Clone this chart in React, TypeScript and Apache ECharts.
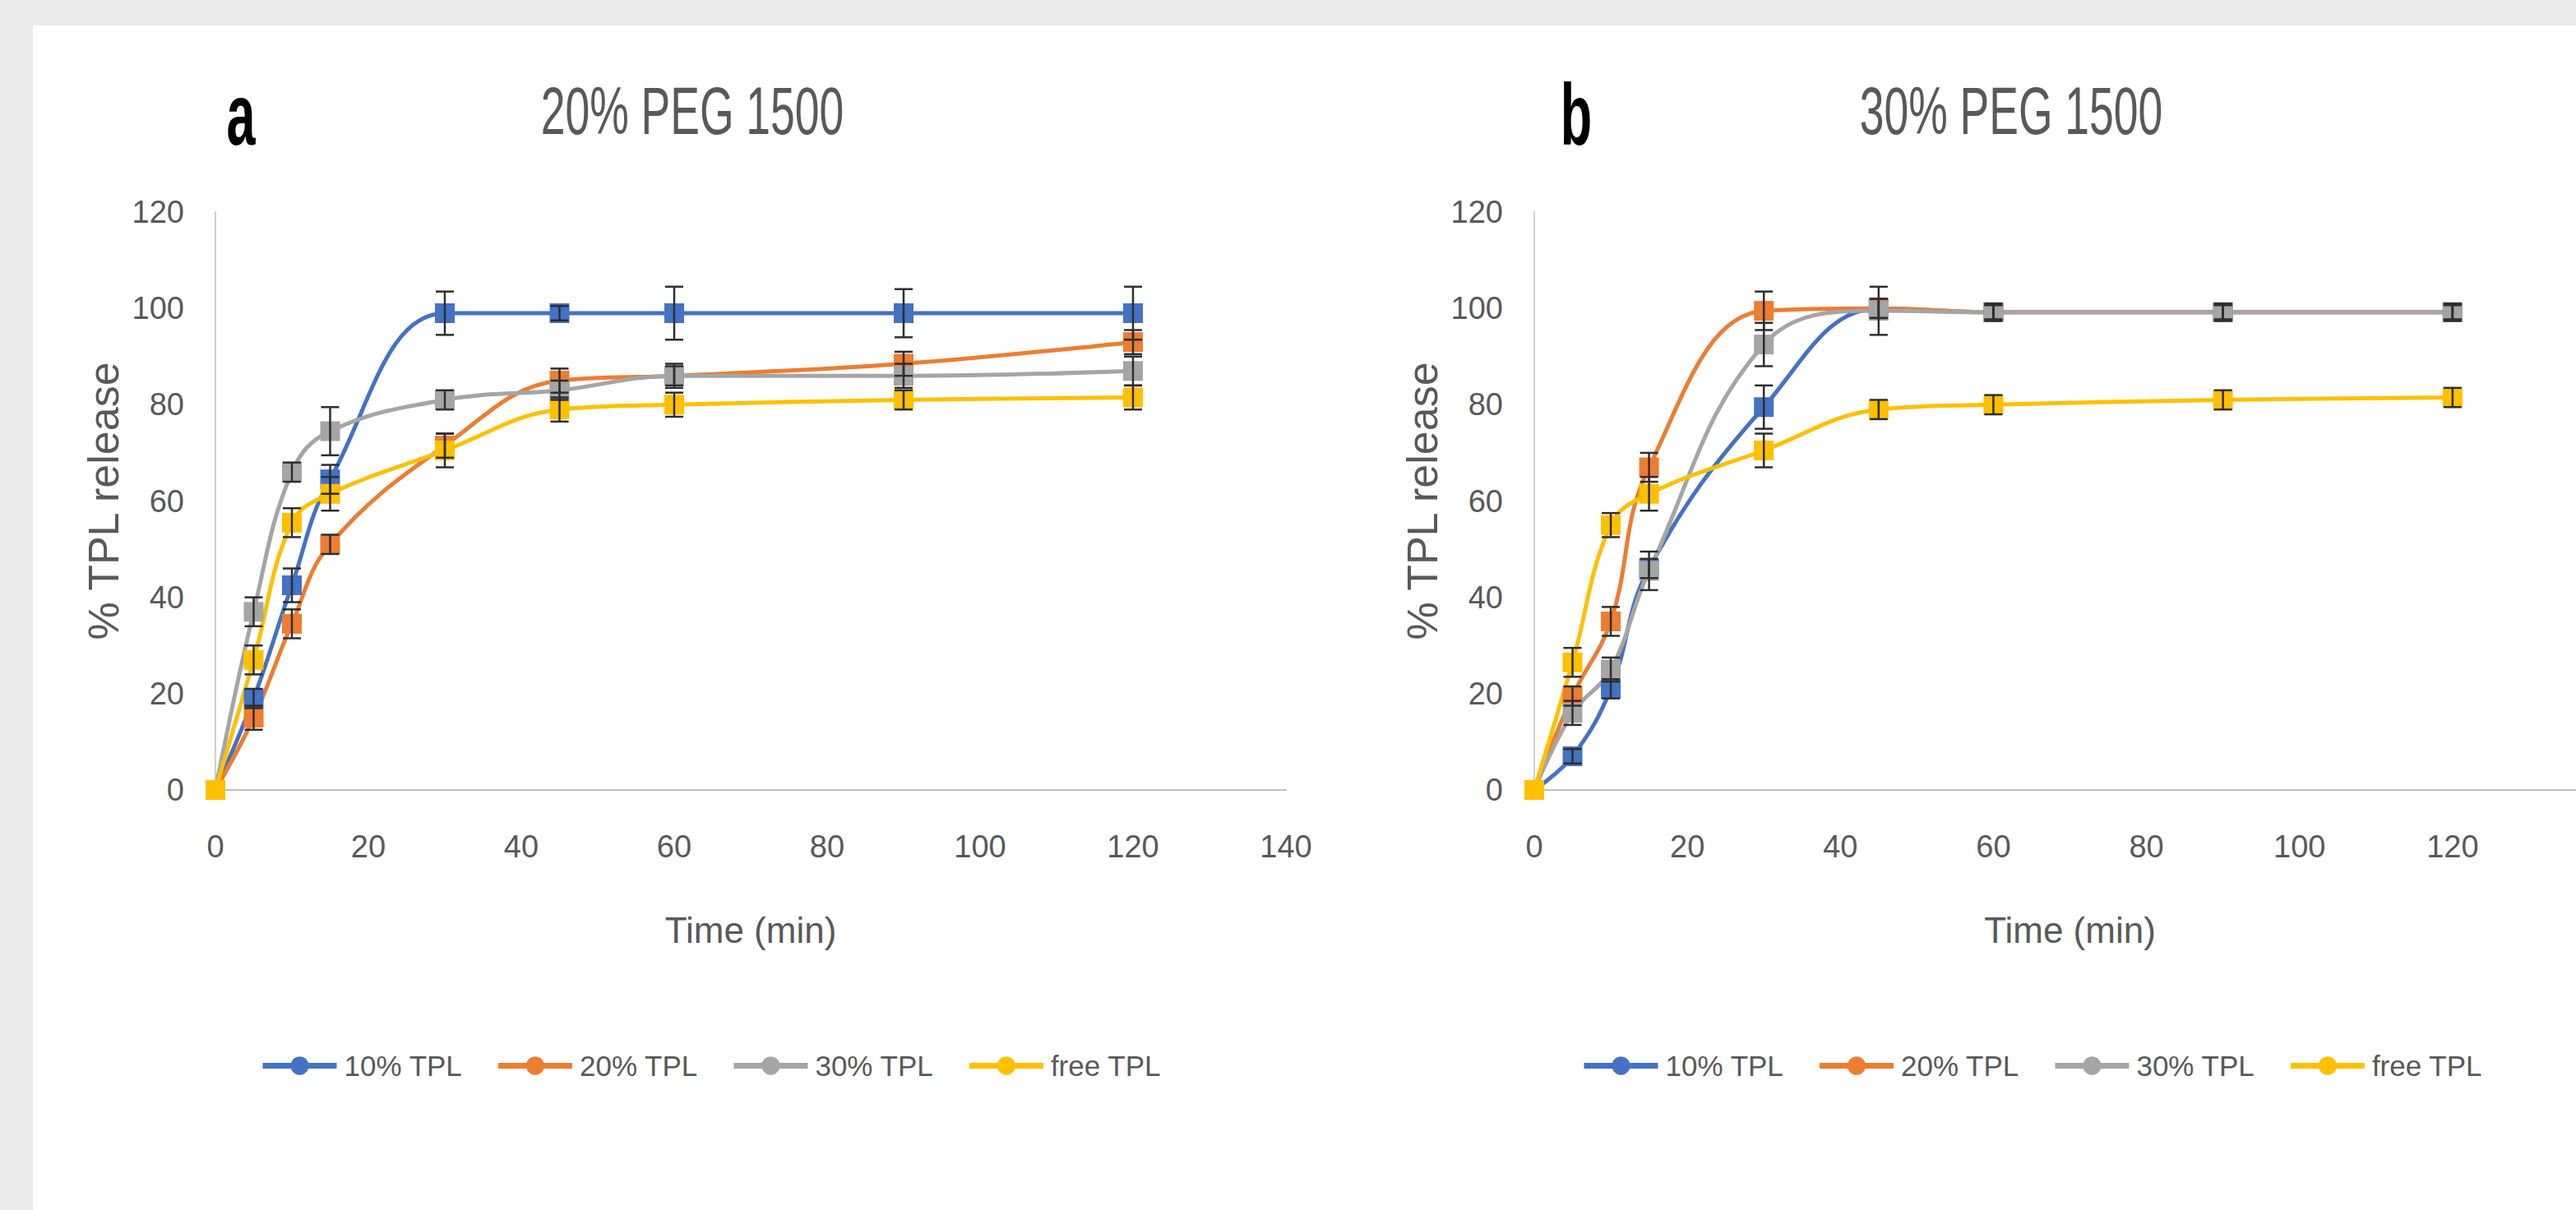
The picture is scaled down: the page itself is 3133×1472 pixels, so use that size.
import React, { useEffect, useRef } from "react";
import * as echarts from "echarts";

// ---------- data ----------
const times = [0, 5, 10, 15, 30, 45, 60, 90, 120];
const seriesNames = ["10% TPL", "20% TPL", "30% TPL", "free TPL"];
const colors = ["#4472C4", "#ED7D31", "#A5A5A5", "#FFC000"];
const panelLetters = ["a", "b"];
const panelTitles = ["20% PEG 1500", "30% PEG 1500"];
const xAxisTitle = "Time (min)";
const yAxisTitle = "% TPL release";

// panel a: 20% PEG 1500
const a10 = [0, 19, 42.5, 64.5, 99, 99, 99, 99, 99];
const a20 = [0, 15, 34.5, 51, 71.5, 85, 86, 88.5, 93];
const a30 = [0, 37, 66, 74.5, 81, 83, 86, 86, 87];
const aFree = [0, 27, 55.5, 61.5, 70.5, 79, 80, 81, 81.5];
const aErr10 = [0, 2, 3.5, 3, 4.5, 1.5, 5.5, 5, 5.5];
const aErr20 = [0, 2.5, 3, 2, 2.5, 2.5, 2, 2.5, 2.5];
const aErr30 = [0, 3, 2, 5, 2, 2, 2.5, 2.5, 3];
const aErrFree = [0, 3, 3, 3.5, 3.5, 2.5, 2.5, 2, 2.5];

// panel b: 30% PEG 1500
const b10 = [0, 7, 21, 46, 79.5, 100, 99.2, 99.2, 99.2];
const b20 = [0, 19.5, 35, 67, 99.5, 100, 99.2, 99.2, 99.2];
const b30 = [0, 16, 25, 45.5, 92.5, 99.5, 99.2, 99.2, 99.2];
const bFree = [0, 26.5, 55, 61.5, 70.5, 79, 80, 81, 81.5];
const bErr10 = [0, 1.5, 2, 2, 4.5, 2, 1.5, 1.5, 1.5];
const bErr20 = [0, 2, 3, 3, 4, 2, 1.5, 1.5, 1.5];
const bErr30 = [0, 2.5, 2.5, 4, 4.5, 5, 1.8, 1.8, 1.8];
const bErrFree = [0, 3, 2.5, 3.5, 3.5, 2, 2, 2, 2];

const panelValues = [
  [a10, a20, a30, aFree],
  [b10, b20, b30, bFree],
];
const panelErrors = [
  [aErr10, aErr20, aErr30, aErrFree],
  [bErr10, bErr20, bErr30, bErrFree],
];

// ---------- layout (chart-div coordinates) ----------
const OX = 40;
const OY = 31;
const W = 3133 - OX;
const H = 1472 - OY;
const gridLefts = [262 - OX, 1866 - OX];
const gridWidths = [1302, 1303];
const gridTop = 258 - OY;
const gridHeight = 703;
const legendLefts = [311 - OX, 1918 - OX];
const legendTop = 1288 - OY - 14;
const letterPos = [
  [293 - OX, 140 - OY],
  [1917 - OX, 140 - OY],
];
const titlePos = [
  [842 - OX, 135 - OY],
  [2446 - OX, 135 - OY],
];

const FONT = "'Liberation Sans', Arial, sans-serif";
const LABEL = "#595959";

function buildOption() {
  const grids: any[] = [];
  const xAxes: any[] = [];
  const yAxes: any[] = [];
  const series: any[] = [];
  const legends: any[] = [];
  const graphics: any[] = [];

  for (let p = 0; p < 2; p++) {
    grids.push({
      left: gridLefts[p],
      top: gridTop,
      width: gridWidths[p],
      height: gridHeight,
      containLabel: false,
      outerBoundsMode: "none",
    });
    xAxes.push({
      gridIndex: p,
      type: "value",
      min: 0,
      max: 140,
      interval: 20,
      name: xAxisTitle,
      nameLocation: "middle",
      nameGap: 148,
      nameTextStyle: { fontFamily: FONT, fontSize: 44, color: LABEL },
      axisLine: { show: true, onZero: false, lineStyle: { color: "#BFBFBF", width: 2 } },
      axisTick: { show: false },
      splitLine: { show: false },
      axisLabel: {
        margin: 50,
        fontFamily: FONT,
        fontSize: 38,
        color: LABEL,
        showMaxLabel: p === 0,
      },
    });
    yAxes.push({
      gridIndex: p,
      type: "value",
      min: 0,
      max: 120,
      interval: 20,
      name: yAxisTitle,
      nameLocation: "middle",
      nameRotate: 90,
      nameGap: 110,
      nameTextStyle: { fontFamily: FONT, fontSize: 52, color: LABEL },
      axisLine: { show: true, lineStyle: { color: "#D0D0D0", width: 2 } },
      axisTick: { show: false },
      splitLine: { show: false },
      axisLabel: { margin: 38, fontFamily: FONT, fontSize: 38, color: LABEL },
    });

    for (let s = 0; s < 4; s++) {
      const vals = panelValues[p][s];
      series.push({
        name: seriesNames[s],
        type: "line",
        xAxisIndex: p,
        yAxisIndex: p,
        smooth: 0.4,
        symbol: "circle",
        symbolSize: 24,
        showSymbol: true,
        z: 2,
        color: colors[s],
        lineStyle: { width: 5, color: colors[s] },
        itemStyle: { color: colors[s] },
        data: times.map((t, i) => ({ value: [t, vals[i]], symbol: "rect" })),
      });
    }
    for (let s = 0; s < 4; s++) {
      const vals = panelValues[p][s];
      const errs = panelErrors[p][s];
      const errData: number[][] = [];
      times.forEach((t, i) => {
        if (errs[i] > 0) errData.push([t, vals[i] - errs[i], vals[i] + errs[i]]);
      });
      series.push({
        name: "err-" + p + "-" + s,
        type: "custom",
        xAxisIndex: p,
        yAxisIndex: p,
        z: 3,
        silent: true,
        data: errData,
        renderItem: (params: any, api: any) => {
          const x = api.value(0);
          const lo = api.value(1);
          const hi = api.value(2);
          const top = api.coord([x, hi]);
          const bot = api.coord([x, lo]);
          const hw = 11;
          const st = { stroke: "#2E2E2E", lineWidth: 2.5 };
          return {
            type: "group",
            children: [
              { type: "line", shape: { x1: top[0], y1: top[1], x2: bot[0], y2: bot[1] }, style: st },
              { type: "line", shape: { x1: top[0] - hw, y1: top[1], x2: top[0] + hw, y2: top[1] }, style: st },
              { type: "line", shape: { x1: bot[0] - hw, y1: bot[1], x2: bot[0] + hw, y2: bot[1] }, style: st },
            ],
          };
        },
      });
    }

    legends.push({
      data: seriesNames,
      left: legendLefts[p],
      top: legendTop,
      orient: "horizontal",
      itemWidth: 90,
      itemHeight: 28,
      itemGap: 40,
      selectedMode: false,
      lineStyle: { width: 7 },
      textStyle: { fontFamily: FONT, fontSize: 35, color: LABEL, padding: [0, 0, 0, 4] },
    });

    graphics.push({
      type: "text",
      x: letterPos[p][0],
      y: letterPos[p][1],
      scaleX: 0.6,
      style: {
        text: panelLetters[p],
        fontFamily: FONT,
        fontWeight: "bold",
        fontSize: 105,
        fill: "#000000",
        align: "center",
        verticalAlign: "middle",
      },
    });
    graphics.push({
      type: "text",
      x: titlePos[p][0],
      y: titlePos[p][1],
      scaleX: 0.66,
      style: {
        text: panelTitles[p],
        fontFamily: FONT,
        fontSize: 81,
        fill: LABEL,
        align: "center",
        verticalAlign: "middle",
      },
    });
  }

  return {
    animation: false,
    backgroundColor: "#FFFFFF",
    grid: grids,
    xAxis: xAxes,
    yAxis: yAxes,
    legend: legends,
    graphic: graphics,
    series,
  };
}

export default function App() {
  const ref = useRef<HTMLDivElement>(null);
  useEffect(() => {
    if (!ref.current) return;
    const chart = echarts.init(ref.current, undefined, { renderer: "svg" });
    chart.setOption(buildOption());
    return () => chart.dispose();
  }, []);
  return (
    <div
      style={{
        position: "fixed",
        left: 0,
        top: 0,
        width: 3133,
        height: 1472,
        background: "#EBEBEB",
        overflow: "hidden",
      }}
    >
      <div
        ref={ref}
        style={{ position: "absolute", left: OX, top: OY, width: W, height: H, background: "#FFFFFF" }}
      />
    </div>
  );
}
